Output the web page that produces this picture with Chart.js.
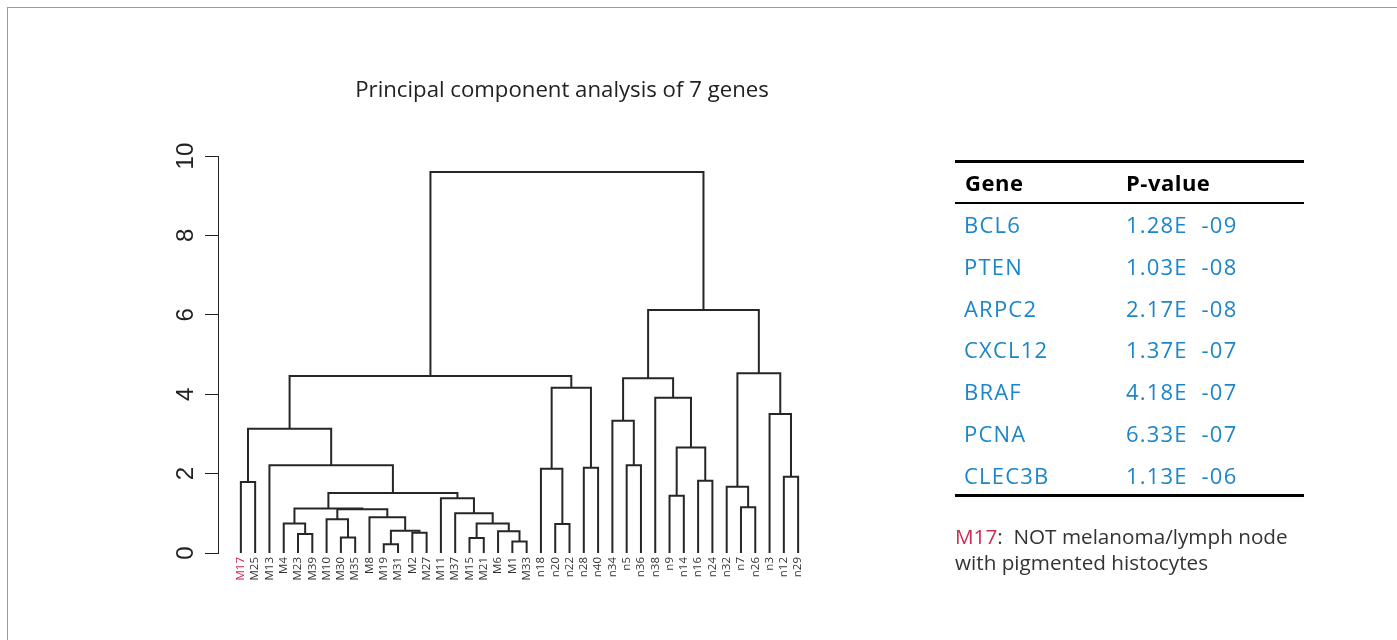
<!DOCTYPE html>
<html>
<head>
<meta charset="utf-8">
<script src="https://cdn.jsdelivr.net/npm/chart.js@4.4.0/dist/chart.umd.min.js"></script>
<style>
html,body{margin:0;padding:0;background:#fff;}
body{width:1397px;height:640px;position:relative;overflow:hidden;font-family:"Open Sans",sans-serif;}
#frameTop{position:absolute;left:7px;top:7px;width:1390px;height:1px;background:#9a9a9a;}
#frameLeft{position:absolute;left:7px;top:7px;width:1px;height:633px;background:#9a9a9a;}
#wrap{position:absolute;left:0;top:0;width:1124px;height:640px;}
.hline{position:absolute;left:955px;width:349px;background:#000;}
.cell{position:absolute;font-size:22px;line-height:41.77px;white-space:pre;color:#1b86c8;letter-spacing:1.2px;}
.head{font-weight:bold;color:#000;letter-spacing:0.5px;}
#note{position:absolute;left:955px;top:522.5px;font-size:20.7px;line-height:26.7px;color:#333;white-space:pre;}
#note .red{color:#cf2a52;}
</style>
</head>
<body>
<div id="frameTop"></div>
<div id="frameLeft"></div>
<div id="wrap"><canvas id="c" width="1124" height="640"></canvas></div>
<div id="table"></div>
<div id="note"><span class="red">M17</span>:  NOT melanoma/lymph node
with pigmented histocytes</div>
<script>
// ---- data ----
const leafLabels = ['M17','M25','M13','M4','M23','M39','M10','M30','M35','M8','M19','M31','M2','M27','M11','M37','M15','M21','M6','M1','M33','n18','n20','n22','n28','n40','n34','n5','n36','n38','n9','n14','n16','n24','n32','n7','n26','n3','n12','n29'];
// merges: a string is a leaf, a number refers to an earlier merge
const mergeLeft  = ['M19','M1','M15','M30','M23','M2','M6',0,'n20','M4',2,'M10','M8','M37',11,9,'n7','M11','n9',15,'n32','M17','n16','n12','n18','n28','M13','n5',18,21,'n34','n3','n38',24,30,29,20,34,35];
const mergeRight = ['M31','M33','M21','M35','M39','M27',1,5,'n22',4,6,3,7,10,12,14,'n26',13,'n14',17,16,'M25','n24','n29',8,'n40',19,'n36',22,26,27,23,28,25,32,33,31,36,37];
const mergeHeight = [0.22,0.29,0.38,0.39,0.48,0.51,0.55,0.56,0.73,0.74,0.74,0.85,0.90,1.00,1.10,1.12,1.15,1.38,1.44,1.51,1.67,1.79,1.82,1.92,2.12,2.15,2.21,2.21,2.66,3.13,3.33,3.50,3.91,4.16,4.40,4.46,4.53,6.12,9.60];
const yTicks = [0,2,4,6,8,10];
const titleText = 'Principal component analysis of 7 genes';
const genes = ['BCL6','PTEN','ARPC2','CXCL12','BRAF','PCNA','CLEC3B'];
const pValues = ['1.28E  -09','1.03E  -08','2.17E  -08','1.37E  -07','4.18E  -07','6.33E  -07','1.13E  -06'];
const outlierLabel = 'M17';

// ---- dendrogram geometry from merges ----
const nodeX = [], nodeH = [];
function pos(ref){
  if (typeof ref === 'string') return {x: leafLabels.indexOf(ref), h: 0};
  return {x: nodeX[ref], h: nodeH[ref]};
}
const datasets = [];
mergeHeight.forEach((h, i) => {
  const a = pos(mergeLeft[i]), b = pos(mergeRight[i]);
  nodeX[i] = (a.x + b.x) / 2; nodeH[i] = h;
  datasets.push({
    data: [{x:a.x,y:a.h},{x:a.x,y:h},{x:b.x,y:h},{x:b.x,y:b.h}],
    borderColor:'#262626', borderWidth:2, pointRadius:0, tension:0, fill:false, clip:false
  });
});

const yLabelPlugin = {
  id:'yLabels',
  afterDraw(chart){
    const ys = chart.scales.y, ctx = chart.ctx;
    ctx.save();
    ctx.font = '24px "Liberation Sans", Arial, sans-serif';
    ctx.fillStyle = '#222';
    ctx.textAlign = 'center';
    ctx.textBaseline = 'alphabetic';
    yTicks.forEach(v => {
      const y = ys.getPixelForValue(v);
      ctx.save();
      ctx.translate(ys.right - 25, y);
      ctx.rotate(-Math.PI/2);
      ctx.fillText(String(v), 0, 0);
      ctx.restore();
    });
    ctx.restore();
  }
};

Chart.defaults.font.family = '"Open Sans", sans-serif';
new Chart(document.getElementById('c'), {
  type:'line',
  data:{datasets},
  options:{
    responsive:false, animation:false, events:[],
    layout:{padding:0},
    plugins:{
      legend:{display:false}, tooltip:{enabled:false},
      title:{display:true, text:titleText, color:'#222', font:{size:22.2, weight:'normal', lineHeight:1.2}, padding:{top:77, bottom:52.4}}
    },
    scales:{
      x:{type:'linear', position:'bottom', min:-1.6, max:40.6,
         afterBuildTicks:(s)=>{ s.ticks = leafLabels.map((_, i) => ({value:i})); },
         afterFit:(s)=>{ s.height = 87; },
         grid:{display:false, drawTicks:false}, border:{display:false},
         ticks:{autoSkip:false, minRotation:90, maxRotation:90, padding:4,
                font:{size:11.5}, callback:(v)=>leafLabels[v],
                color:(ctx)=> leafLabels[ctx.index] === outlierLabel ? '#cf2a52' : '#333'}},
      y:{type:'linear', position:'left', min:0, max:10,
         afterBuildTicks:(s)=>{ s.ticks = yTicks.map(v => ({value:v})); },
         afterFit:(s)=>{ s.width = 218; },
         grid:{drawOnChartArea:false, drawTicks:true, tickLength:13, color:'#222', lineWidth:1},
         border:{display:true, color:'#222', width:1},
         ticks:{display:false}},
      y2:{type:'linear', position:'right', display:true,
         afterFit:(s)=>{ s.width = 303; },
         grid:{display:false}, border:{display:false}, ticks:{display:false}}
    }
  },
  plugins:[yLabelPlugin]
});

// ---- table ----
const tbl = document.getElementById('table');
function addLine(top, h){ const d=document.createElement('div'); d.className='hline'; d.style.top=top+'px'; d.style.height=h+'px'; tbl.appendChild(d); }
function addCell(text, left, top, cls){ const d=document.createElement('div'); d.className='cell'+(cls?' '+cls:''); d.style.left=left+'px'; d.style.top=top+'px'; d.textContent=text; tbl.appendChild(d); }
addLine(160.3, 2.8);
addLine(201.5, 2.4);
addLine(494.3, 2.8);
addCell('Gene', 965, 162, 'head');
addCell('P-value', 1126, 162, 'head');
genes.forEach((g, i) => {
  const top = 204 + i * 41.77;
  addCell(g, 964, top);
  addCell(pValues[i], 1126, top);
});
</script>
</body>
</html>
